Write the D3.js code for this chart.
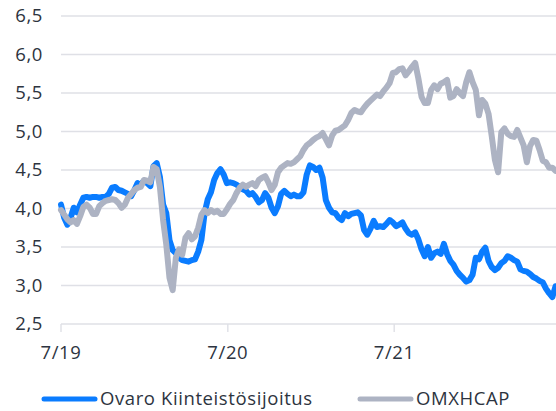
<!DOCTYPE html>
<html><head><meta charset="utf-8">
<script src="https://cdn.jsdelivr.net/npm/d3@7"></script>
<style>body{margin:0;background:#fff} svg{display:block}</style>
</head><body><svg id="c" width="556" height="411"></svg>
<script>
// weekly closes starting 2019-07-01
const startDate = "2019-07-01";
const endDate = "2022-06-21";
const stepDays = 7;
const ovaro = [
4.05,3.88,3.79,3.88,4.01,3.95,4.05,4.14,4.15,4.14,
4.15,4.15,4.14,4.15,4.15,4.19,4.27,4.28,4.24,4.23,
4.21,4.19,4.16,4.24,4.33,4.31,4.36,4.33,4.29,4.55,
4.59,4.41,4.05,3.94,3.59,3.46,3.42,3.36,3.33,3.32,
3.31,3.33,3.34,3.44,3.59,3.94,4.12,4.21,4.37,4.46,
4.51,4.44,4.33,4.34,4.33,4.31,4.28,4.25,4.23,4.18,
4.20,4.15,4.08,4.11,4.20,4.14,4.01,3.94,4.03,4.19,
4.23,4.19,4.16,4.18,4.16,4.16,4.21,4.44,4.56,4.54,
4.50,4.53,4.40,4.11,4.01,3.95,3.94,3.88,3.85,3.94,
3.90,3.93,3.94,3.95,3.91,3.72,3.66,3.74,3.84,3.76,
3.77,3.76,3.80,3.85,3.82,3.77,3.79,3.82,3.74,3.68,
3.66,3.69,3.60,3.47,3.38,3.50,3.36,3.42,3.44,3.41,
3.54,3.41,3.32,3.27,3.19,3.14,3.10,3.05,3.07,3.14,
3.36,3.34,3.44,3.49,3.32,3.24,3.20,3.23,3.29,3.32,
3.38,3.36,3.33,3.31,3.21,3.19,3.18,3.15,3.11,3.09,
3.06,3.04,2.96,2.90,2.85,2.99
];
const omxhcap = [
3.98,3.92,3.86,3.82,3.85,3.80,3.90,4.02,4.05,4.01,
3.93,3.93,4.03,4.07,4.10,4.11,4.12,4.11,4.07,4.01,
4.05,4.14,4.19,4.24,4.27,4.28,4.37,4.36,4.34,4.54,
4.51,4.28,3.85,3.53,3.10,2.94,3.36,3.47,3.40,3.62,
3.68,3.60,3.64,3.75,3.92,3.98,3.94,3.98,3.95,3.97,
3.93,3.93,3.99,4.06,4.11,4.20,4.27,4.31,4.28,4.31,
4.33,4.29,4.37,4.40,4.42,4.34,4.24,4.31,4.47,4.53,
4.56,4.59,4.58,4.60,4.64,4.68,4.76,4.82,4.85,4.89,
4.92,4.94,4.98,4.90,4.82,4.95,5.01,5.02,5.05,5.08,
5.15,5.24,5.28,5.26,5.25,5.31,5.36,5.40,5.44,5.48,
5.46,5.52,5.57,5.63,5.76,5.77,5.81,5.82,5.73,5.78,
5.84,5.89,5.69,5.45,5.37,5.37,5.54,5.60,5.55,5.62,
5.64,5.67,5.44,5.46,5.55,5.50,5.46,5.64,5.77,5.64,
5.54,5.21,5.41,5.36,5.23,4.94,4.63,4.47,4.99,5.04,
4.97,4.94,4.93,5.02,4.92,4.82,4.60,4.81,4.89,4.88,
4.76,4.62,4.60,4.53,4.53,4.49
];
const yTicks = [2.5, 3.0, 3.5, 4.0, 4.5, 5.0, 5.5, 6.0, 6.5];
const xTickDates = ["2019-07-01", "2020-07-01", "2021-07-01"];
const xTickLabels = ["7/19", "7/20", "7/21"];
const seriesNames = ["Ovaro Kiinteistösijoitus", "OMXHCAP"];
const seriesColors = ["#0a7cff", "#adb3c3"];

const FONT = "'Open Sans', Lato, sans-serif";
const FS = 18.5;
const LS = "0.6px";
const TXT = "#2d3440";
const parse = d3.utcParse("%Y-%m-%d");
const t0 = parse(startDate);
const svg = d3.select("#c");

const x = d3.scaleUtc().domain([t0, parse(endDate)]).range([61, 556]);
const y = d3.scaleLinear().domain([2.5, 6.5]).range([324, 16]);

// grid
svg.append("g").selectAll("line").data(yTicks).join("line")
  .attr("x1", 61).attr("x2", 556)
  .attr("y1", d => y(d)).attr("y2", d => y(d))
  .attr("stroke", "#dfe0e6").attr("stroke-width", 1.4);

// y labels
const fmt = d => d3.format(".1f")(d).replace(".", ",");
svg.append("g").selectAll("text").data(yTicks).join("text")
  .attr("x", 43).attr("y", d => y(d)).attr("dy", "0.35em")
  .attr("text-anchor", "end")
  .attr("font-family", FONT).attr("font-size", FS).attr("fill", TXT)
  .style("letter-spacing", LS)
  .text(fmt);

// x ticks
const xt = xTickDates.map((d, i) => ({date: parse(d), label: xTickLabels[i]}));
svg.append("g").selectAll("line").data(xt).join("line")
  .attr("x1", d => x(d.date)).attr("x2", d => x(d.date))
  .attr("y1", 324).attr("y2", 332)
  .attr("stroke", "#dfe0e6").attr("stroke-width", 1.4);
svg.append("g").selectAll("text").data(xt).join("text")
  .attr("x", d => x(d.date)).attr("y", 359)
  .attr("text-anchor", "middle")
  .attr("font-family", FONT).attr("font-size", FS).attr("fill", TXT)
  .style("letter-spacing", LS)
  .text(d => d.label);

// lines
const series = [ovaro, omxhcap];
const line = d3.line()
  .x((d, i) => x(d3.utcDay.offset(t0, i * stepDays)))
  .y(d => y(d));
svg.append("defs").append("clipPath").attr("id", "clip")
  .append("rect").attr("x", 55).attr("y", 0).attr("width", 501).attr("height", 340);
const lg = svg.append("g").attr("clip-path", "url(#clip)");
series.forEach((s, k) => {
  lg.append("path").datum(s)
    .attr("d", line)
    .attr("fill", "none")
    .attr("stroke", seriesColors[k])
    .attr("stroke-width", 6)
    .attr("stroke-linejoin", "round")
    .attr("stroke-linecap", "round");
});

// legend
const legX = [42, 358];
seriesNames.forEach((n, k) => {
  const g = svg.append("g");
  g.append("line").attr("x1", legX[k] + 2).attr("x2", legX[k] + 53)
    .attr("y1", 399).attr("y2", 399)
    .attr("stroke", seriesColors[k]).attr("stroke-width", 5).attr("stroke-linecap", "round");
  g.append("text").attr("x", legX[k] + 58).attr("y", 405)
    .attr("font-family", FONT).attr("font-size", FS).attr("fill", TXT)
    .style("letter-spacing", LS)
    .text(n);
});
</script>
</body></html>
